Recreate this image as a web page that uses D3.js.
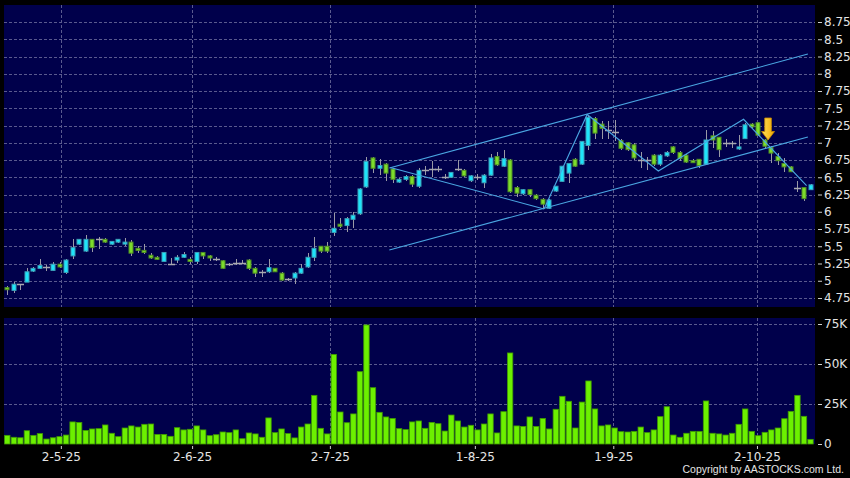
<!DOCTYPE html>
<html><head><meta charset="utf-8">
<script src="https://cdn.jsdelivr.net/npm/d3@7/dist/d3.min.js"></script>
<style>html,body{margin:0;padding:0;background:#000;}svg{display:block;}</style>
</head><body>
<svg id="chart" width="850" height="478"></svg>
<script>
// ---------- DATA ----------
const opens  = [4.90,4.86,4.95,4.98,5.14,5.18,5.20,5.15,5.24,5.12,5.36,5.53,5.43,5.60,5.61,5.60,5.53,5.56,5.54,5.56,5.47,5.44,5.37,5.34,5.28,5.24,5.30,5.34,5.31,5.28,5.41,5.36,5.31,5.29,5.24,5.26,5.26,5.30,5.18,5.12,5.13,5.18,5.11,5.02,5.04,5.11,5.20,5.34,5.50,5.50,5.70,5.82,5.80,5.89,5.97,6.36,6.78,6.63,6.69,6.62,6.43,6.47,6.51,6.37,6.60,6.62,6.62,6.51,6.50,6.62,6.60,6.45,6.50,6.42,6.53,6.80,6.66,6.75,6.35,6.26,6.32,6.24,6.18,6.05,6.30,6.44,6.56,6.76,6.69,6.96,7.35,7.27,7.18,7.15,7.03,7.00,6.97,6.75,6.75,6.82,6.69,6.81,6.94,6.86,6.82,6.74,6.76,6.69,7.10,7.08,7.00,6.99,6.91,7.06,7.27,7.29,7.04,6.93,6.80,6.70,6.65,6.34,6.35,6.32];
const highs  = [4.92,4.98,4.96,5.18,5.20,5.32,5.23,5.27,5.27,5.31,5.60,5.61,5.66,5.61,5.64,5.62,5.58,5.61,5.62,5.59,5.51,5.53,5.40,5.36,5.42,5.33,5.37,5.41,5.34,5.42,5.42,5.38,5.35,5.30,5.26,5.32,5.30,5.31,5.20,5.16,5.31,5.19,5.12,5.04,5.12,5.25,5.40,5.63,5.51,5.56,5.98,5.91,5.93,6.00,6.34,6.80,6.80,6.76,6.71,6.64,6.49,6.53,6.53,6.63,6.66,6.74,6.66,6.55,6.58,6.75,6.62,6.53,6.55,6.54,6.84,6.87,6.89,6.77,6.37,6.33,6.33,6.26,6.20,6.18,6.38,6.67,6.71,6.78,7.03,7.40,7.38,7.32,7.32,7.33,7.05,7.01,6.99,6.87,6.80,6.84,6.84,6.88,6.95,6.88,6.83,6.76,6.77,7.19,7.17,7.09,7.05,7.03,7.11,7.28,7.28,7.30,7.06,6.95,6.85,6.78,6.67,6.44,6.36,6.40];
const lows   = [4.80,4.82,4.87,4.98,5.12,5.17,5.14,5.14,5.18,5.10,5.31,5.52,5.42,5.41,5.46,5.55,5.52,5.55,5.50,5.36,5.40,5.39,5.32,5.30,5.27,5.23,5.26,5.33,5.24,5.24,5.31,5.29,5.28,5.17,5.21,5.23,5.24,5.16,5.06,5.05,5.11,5.12,4.99,5.00,4.95,5.10,5.19,5.28,5.40,5.40,5.65,5.76,5.71,5.76,5.96,6.34,6.56,6.53,6.44,6.41,6.41,6.45,6.36,6.35,6.53,6.51,6.58,6.47,6.49,6.59,6.51,6.43,6.46,6.34,6.52,6.66,6.65,6.27,6.21,6.25,6.22,6.17,6.04,6.04,6.29,6.43,6.41,6.65,6.68,6.90,7.06,7.06,7.06,7.02,6.90,6.88,6.75,6.63,6.61,6.67,6.67,6.79,6.84,6.74,6.70,6.70,6.64,6.68,6.93,6.80,6.94,6.93,6.90,7.05,7.22,7.10,6.93,6.70,6.68,6.58,6.57,6.29,6.16,6.31];
const closes = [4.87,4.95,4.95,5.13,5.18,5.22,5.20,5.24,5.20,5.30,5.48,5.60,5.60,5.48,5.61,5.56,5.57,5.60,5.56,5.40,5.44,5.42,5.33,5.31,5.41,5.24,5.34,5.38,5.28,5.41,5.36,5.33,5.31,5.18,5.24,5.26,5.26,5.18,5.11,5.12,5.19,5.13,5.01,5.02,5.11,5.18,5.34,5.47,5.43,5.43,5.76,5.79,5.90,5.95,6.33,6.73,6.63,6.67,6.56,6.47,6.47,6.51,6.40,6.60,6.60,6.62,6.62,6.51,6.57,6.62,6.52,6.52,6.50,6.53,6.78,6.68,6.77,6.29,6.27,6.32,6.25,6.19,6.11,6.17,6.37,6.66,6.70,6.66,7.02,7.37,7.14,7.21,7.18,7.15,6.92,6.90,6.78,6.75,6.75,6.69,6.82,6.86,6.86,6.77,6.72,6.72,6.67,7.04,7.04,6.90,7.00,6.99,6.94,7.26,7.23,7.11,6.95,6.85,6.74,6.65,6.58,6.34,6.19,6.39];
const volumes = [5.4,4.2,3.9,8.3,5.4,6.5,3.1,3.9,4.6,5.6,13.8,13.5,8.5,9.4,9.6,11.9,6.7,4.6,10.0,11.3,10.6,12.3,12.5,6.0,6.0,4.8,10.2,8.8,9.2,11.3,8.8,5.2,5.8,7.5,7.1,8.8,3.3,6.9,6.3,4.2,16.3,7.1,9.4,6.5,3.8,10.6,12.5,30.4,9.8,6.3,56.0,20.0,13.3,18.8,45.2,74.4,35.2,19.8,16.9,16.0,9.6,9.0,13.8,14.4,9.8,13.5,12.7,8.1,18.1,14.4,10.6,11.7,8.8,12.5,18.8,6.9,20.2,56.9,11.3,11.0,16.9,11.0,16.0,9.4,21.7,29.8,26.7,10.0,26.2,39.4,21.9,11.3,11.9,10.0,7.7,7.5,7.9,10.6,7.1,8.8,17.1,23.3,5.6,4.2,6.7,7.9,7.9,26.9,6.7,6.3,5.6,6.7,12.3,21.9,7.9,5.2,7.3,8.8,10.0,15.8,20.4,30.4,17.3,2.9].map(v => v * 1000);

const priceTicks = [4.75,5,5.25,5.5,5.75,6,6.25,6.5,6.75,7,7.25,7.5,7.75,8,8.25,8.5,8.75];
const volTicks = [0,25000,50000,75000];
const volTickLabels = ["0","25K","50K","75K"];
const dateLabels = ["2-5-25","2-6-25","2-7-25","1-8-25","1-9-25","2-10-25"];
const dateIdx = [8.2,28.3,49.4,71.6,92.8,114.8];

// drawn trend lines: [barIndex, price]
const upperChannel = [[58.5,6.634],[122.6,8.286]];
const lowerChannel = [[58.5,5.446],[122.6,7.083]];
const fallLine = [[58.65,6.641],[82.2,6.04]];
const zigzag = [[82.2,6.04],[88.8,7.41],[99.7,6.59],[112.75,7.34],[122.4,6.38]];
const arrowMark = {idx:116.5, price:7.04};
const copyright = "Copyright by AASTOCKS.com Ltd.";

// ---------- LAYOUT ----------
const svg = d3.select("#chart");
const W = 850, H = 478;
const pLeft = 4, pRight = 815, pTop = 5, pBot = 307, vTop = 318, vBot = 444;
const navy = "#00004b";
const gridCol = "#5a5a8e";
const txtCol = "#e4e4e4";
const font = "DejaVu Sans, Verdana, sans-serif";

const n = closes.length;
const x = d3.scaleLinear().domain([0, n - 1]).range([7.3, 810.5]);
const y = d3.scaleLinear().domain([4.75, 8.75]).range([298, 22]);
const yv = d3.scaleLinear().domain([0, 75000]).range([vBot, 324]);

svg.append("rect").attr("width", W).attr("height", H).attr("fill", "#000");
svg.append("rect").attr("x", pLeft).attr("y", pTop).attr("width", pRight - pLeft).attr("height", pBot - pTop).attr("fill", navy);
svg.append("rect").attr("x", pLeft).attr("y", vTop).attr("width", pRight - pLeft).attr("height", vBot - vTop).attr("fill", navy);

const defs = svg.append("defs");
defs.append("clipPath").attr("id", "cp").append("rect").attr("x", pLeft).attr("y", pTop).attr("width", pRight - pLeft).attr("height", pBot - pTop);
const g = defs.append("linearGradient").attr("id", "arrowGrad").attr("x1", 0).attr("x2", 1).attr("y1", 0).attr("y2", 0);
g.append("stop").attr("offset", "0%").attr("stop-color", "#ffe25a");
g.append("stop").attr("offset", "100%").attr("stop-color", "#f0a800");

// grid
const grid = svg.append("g").attr("stroke", gridCol).attr("stroke-width", 1).attr("stroke-dasharray", "3,2").attr("shape-rendering", "crispEdges");
grid.selectAll(".hp").data(priceTicks).join("line")
  .attr("x1", pLeft).attr("x2", pRight).attr("y1", d => Math.round(y(d)) + 0.5).attr("y2", d => Math.round(y(d)) + 0.5);
grid.selectAll(".hv").data(volTicks.slice(1)).join("line")
  .attr("x1", pLeft).attr("x2", pRight).attr("y1", d => Math.round(yv(d)) + 0.5).attr("y2", d => Math.round(yv(d)) + 0.5);
grid.selectAll(".vp").data(dateIdx).join("line")
  .attr("x1", d => Math.round(x(d)) + 0.5).attr("x2", d => Math.round(x(d)) + 0.5).attr("y1", pTop).attr("y2", pBot);
grid.selectAll(".vv").data(dateIdx).join("line")
  .attr("x1", d => Math.round(x(d)) + 0.5).attr("x2", d => Math.round(x(d)) + 0.5).attr("y1", vTop).attr("y2", vBot);

// candles
const bw = 5;
const candles = svg.append("g").attr("clip-path", "url(#cp)");
const idx = d3.range(n);
const kind = i => closes[i] > opens[i] ? "up" : (closes[i] < opens[i] ? "down" : "flat");
const fillC = {up: "#1ee4fa", down: "#7ddc2c", flat: "#a0a0a8"};
const strokeC = {up: "#3a9fb8", down: "#4f8f22", flat: "#a0a0a8"};
candles.selectAll(".wick").data(idx).join("line")
  .attr("x1", i => Math.round(x(i)) + 0.5).attr("x2", i => Math.round(x(i)) + 0.5)
  .attr("y1", i => y(highs[i])).attr("y2", i => y(lows[i]))
  .attr("stroke", "#9a9aa6").attr("stroke-width", 1).attr("shape-rendering", "crispEdges");
candles.selectAll(".flat").data(idx.filter(i => kind(i) === "flat")).join("line")
  .attr("x1", i => Math.round(x(i)) - 3).attr("x2", i => Math.round(x(i)) + 4)
  .attr("y1", i => Math.round(y(opens[i])) + 0.5).attr("y2", i => Math.round(y(opens[i])) + 0.5)
  .attr("stroke", "#a8a8b0").attr("stroke-width", 1.5);
candles.selectAll(".body").data(idx.filter(i => kind(i) !== "flat")).join("rect")
  .attr("x", i => Math.round(x(i)) - 2)
  .attr("y", i => y(Math.max(opens[i], closes[i])))
  .attr("width", bw - 1)
  .attr("height", i => Math.max(2, Math.abs(y(opens[i]) - y(closes[i]))))
  .attr("fill", i => fillC[kind(i)]).attr("stroke", i => strokeC[kind(i)]).attr("stroke-width", 1);

// trend lines
const lineGen = d3.line().x(d => x(d[0])).y(d => y(d[1]));
const tl = svg.append("g").attr("clip-path", "url(#cp)").attr("fill", "none").attr("stroke", "#4aa6e2").attr("stroke-width", 1.1);
[upperChannel, lowerChannel, fallLine, zigzag].forEach(pts => tl.append("path").attr("d", lineGen(pts)));

// arrow
const ax = x(arrowMark.idx), ay = y(arrowMark.price);
svg.append("path")
  .attr("d", `M${ax},${ay} L${ax - 6.5},${ay - 8.5} L${ax - 3.3},${ay - 8.5} L${ax - 3.3},${ay - 22} L${ax + 3.3},${ay - 22} L${ax + 3.3},${ay - 8.5} L${ax + 6.5},${ay - 8.5} Z`)
  .attr("fill", "url(#arrowGrad)").attr("stroke", "#c98a00").attr("stroke-width", 0.8);

// volume bars
svg.append("g").selectAll("rect").data(idx).join("rect")
  .attr("x", i => x(i) - 2.7).attr("width", 5.4)
  .attr("y", i => yv(volumes[i])).attr("height", i => vBot - yv(volumes[i]))
  .attr("fill", "#6cf000").attr("stroke", "#3f9a00").attr("stroke-width", 0.8);

// axes
const axP = svg.append("g").attr("transform", `translate(818,0)`)
  .call(d3.axisRight(y).tickValues(priceTicks).tickSize(4).tickPadding(2).tickFormat(d => String(d)));
const axV = svg.append("g").attr("transform", `translate(818,0)`)
  .call(d3.axisRight(yv).tickValues(volTicks).tickSize(4).tickPadding(2).tickFormat((d, i) => volTickLabels[i]));
const axX = svg.append("g").attr("transform", `translate(0,${vBot + 2})`)
  .call(d3.axisBottom(x).tickValues(dateIdx).tickSize(3).tickPadding(3).tickFormat((d, i) => dateLabels[i]));
[axP, axV, axX].forEach(a => {
  a.select(".domain").remove();
  a.selectAll(".tick line").attr("stroke", "#cfcfcf");
  a.selectAll(".tick text").attr("fill", txtCol).attr("font-family", font).attr("font-size", 12);
});

svg.append("text").attr("x", 844).attr("y", 472.5).attr("text-anchor", "end")
  .attr("fill", txtCol).attr("font-family", "Liberation Sans, Arial, sans-serif").attr("font-size", 10.5)
  .text(copyright);
</script>
</body></html>
